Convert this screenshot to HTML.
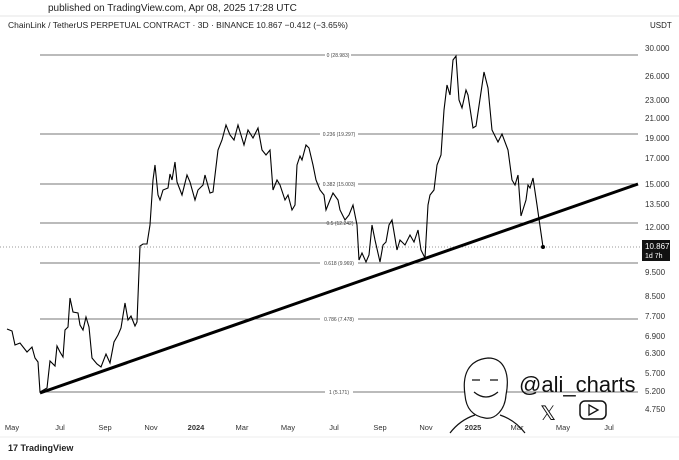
<!DOCTYPE html><html><head><style>body{margin:0;background:#fff;font-family:"Liberation Sans",sans-serif}</style></head><body>
<svg width="679" height="455" xmlns="http://www.w3.org/2000/svg" font-family="Liberation Sans, sans-serif">
<rect width="679" height="455" fill="#fff"/>
<text x="48" y="11" font-size="10" fill="#222">published on TradingView.com, Apr 08, 2025 17:28 UTC</text>
<line x1="0" y1="16" x2="679" y2="16" stroke="#e6e6e6"/>
<text x="8" y="28" font-size="8.5" fill="#222">ChainLink / TetherUS PERPETUAL CONTRACT · 3D · BINANCE  10.867  −0.412 (−3.65%)</text>
<text x="650" y="28" font-size="8" fill="#222">USDT</text>
<g stroke="#777" stroke-width="1">
<line x1="40" y1="55" x2="638" y2="55"/><line x1="40" y1="134" x2="638" y2="134"/><line x1="40" y1="184" x2="638" y2="184"/><line x1="40" y1="223" x2="638" y2="223"/><line x1="40" y1="263" x2="638" y2="263"/><line x1="40" y1="319" x2="638" y2="319"/><line x1="40" y1="392" x2="638" y2="392"/>
</g>
<line x1="0" y1="247" x2="640" y2="247" stroke="#999" stroke-dasharray="1,2"/>
<g font-size="5" fill="#444" text-anchor="middle">
<rect x="325" y="52" width="26" height="6" fill="#fff"/><text x="338" y="57">0 (28.983)</text>
<rect x="320" y="131" width="38" height="6" fill="#fff"/><text x="339" y="136">0.236 (19.297)</text>
<rect x="320" y="181" width="38" height="6" fill="#fff"/><text x="339" y="186">0.382 (15.003)</text>
<text x="340" y="225">0.5 (12.242)</text>
<rect x="320" y="260" width="38" height="6" fill="#fff"/><text x="339" y="265">0.618 (9.969)</text>
<rect x="320" y="316" width="38" height="6" fill="#fff"/><text x="339" y="321">0.786 (7.478)</text>
<rect x="325" y="389" width="28" height="6" fill="#fff"/><text x="339" y="394">1 (5.171)</text>
</g>
<line x1="40" y1="393" x2="638" y2="184" stroke="#000" stroke-width="3"/>
<polyline fill="none" stroke="#000" stroke-width="1.1" points="7,329 12,331 15,345 20,343 27,352 32,347 35,358 38,362 40,392 47,388 50,361 55,366 57,346 60,352 63,357 65,330 68,327 70,298 73,312 78,313 80,325 83,330 86,317 89,327 92,358 97,364 101,367 106,354 110,363 114,342 118,335 121,328 125,303 128,320 131,316 135,326 137,322 140,246 143,244 147,244 150,225 153,180 155,165 158,195 160,200 163,190 168,188 170,174 172,180 175,162 177,182 182,195 187,175 190,182 195,200 198,190 203,185 205,175 210,193 213,192 218,150 222,140 226,125 230,135 234,140 238,125 244,145 248,130 253,138 258,128 262,150 266,155 270,150 273,190 277,180 280,185 285,200 288,195 292,210 295,205 297,165 300,156 302,160 306,145 309,148 313,165 316,180 320,190 324,195 326,210 330,200 333,193 338,200 340,210 345,220 349,215 353,205 357,225 359,260 362,253 366,262 369,255 372,225 375,240 380,262 383,245 386,242 389,225 392,220 397,250 400,240 405,245 410,235 414,242 418,230 421,250 425,258 428,205 430,195 434,190 437,165 441,155 444,110 447,85 450,95 453,60 456,56 459,100 462,108 466,90 468,95 473,128 476,126 484,72 488,88 492,130 498,142 502,134 508,150 512,180 515,185 518,175 521,216 526,200 528,185 530,188 533,178 537,205 543,247"/>
<circle cx="543" cy="247" r="2" fill="#000"/>
<g font-size="8" fill="#333">
<text x="645" y="51">30.000</text><text x="645" y="79">26.000</text><text x="645" y="103">23.000</text><text x="645" y="121">21.000</text><text x="645" y="141">19.000</text><text x="645" y="161">17.000</text><text x="645" y="187">15.000</text><text x="645" y="207">13.500</text><text x="645" y="230">12.000</text><text x="645" y="275">9.500</text><text x="645" y="299">8.500</text><text x="645" y="319">7.700</text><text x="645" y="339">6.900</text><text x="645" y="356">6.300</text><text x="645" y="376">5.700</text><text x="645" y="394">5.200</text><text x="645" y="412">4.750</text>
</g>
<rect x="642" y="240" width="28" height="21" fill="#111"/>
<text x="645" y="249" font-size="8" fill="#fff">10.867</text><text x="645" y="258" font-size="7" fill="#fff">1d 7h</text>
<g font-size="7.5" fill="#333" text-anchor="middle">
<text x="12" y="430">May</text><text x="60" y="430">Jul</text><text x="105" y="430">Sep</text><text x="151" y="430">Nov</text><text x="196" y="430" font-weight="bold">2024</text><text x="242" y="430">Mar</text><text x="288" y="430">May</text><text x="334" y="430">Jul</text><text x="380" y="430">Sep</text><text x="426" y="430">Nov</text><text x="473" y="430" font-weight="bold">2025</text><text x="517" y="430">Mar</text><text x="563" y="430">May</text><text x="609" y="430">Jul</text>
</g>
<line x1="0" y1="437" x2="679" y2="437" stroke="#eee"/>
<text x="8" y="451" font-size="9" font-weight="bold" fill="#222">17 TradingView</text>
<g fill="none" stroke="#111" stroke-width="1.2">
<path d="M465,395 C462,375 468,360 488,358 C505,358 510,375 506,395 C505,410 495,420 485,418 C472,416 466,408 465,395Z" fill="#fff"/>
<path d="M474,392 Q486,402 498,392"/><path d="M472,380 l8,0 M490,380 l8,0"/>
<path d="M450,433 Q460,420 475,415 M500,415 Q515,420 525,433"/>
</g>
<text x="519" y="392" font-size="22" fill="#111">@ali_charts</text>
<text x="540" y="420" font-size="20" fill="#111">𝕏</text>
<rect x="580" y="401" width="26" height="18" rx="5" fill="none" stroke="#111" stroke-width="1.5"/>
<path d="M589,405 L598,410 L589,415Z" fill="none" stroke="#111" stroke-width="1.3"/>
</svg></body></html>
